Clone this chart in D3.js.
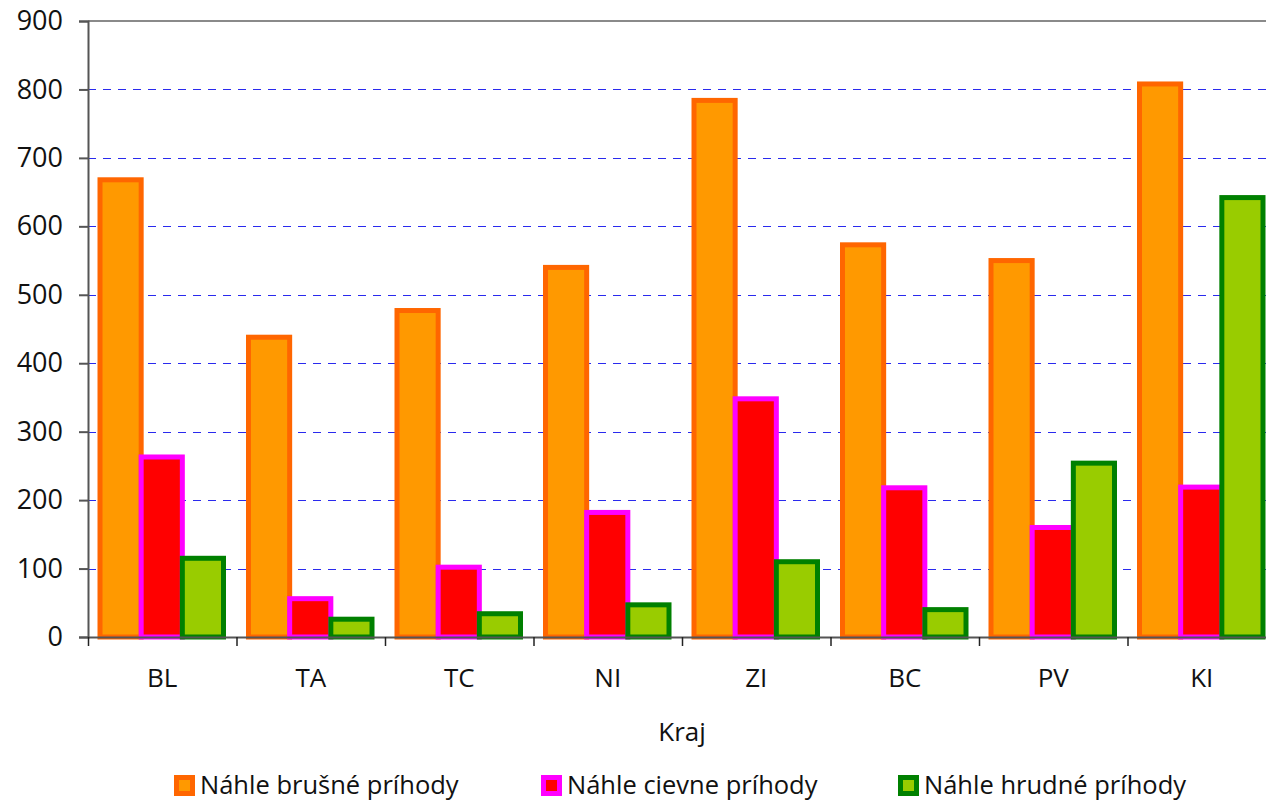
<!DOCTYPE html>
<html>
<head>
<meta charset="utf-8">
<script src="https://cdn.jsdelivr.net/npm/d3@7"></script>
<style>
  body { margin: 0; background: #fff; overflow: hidden; }
  text { font-family: "Open Sans", sans-serif; fill: #111; }
</style>
</head>
<body>
<svg id="chart"></svg>
<script>
const categories = ["BL", "TA", "TC", "NI", "ZI", "BC", "PV", "KI"];
const seriesNames = ["Náhle brušné príhody", "Náhle cievne príhody", "Náhle hrudné príhody"];
const brusne = [668, 438, 477, 540, 784, 573, 550, 808];
const cievne = [263, 56, 102, 182, 348, 218, 160, 219];
const hrudne = [115, 26, 34, 47, 110, 40, 254, 642];
const yTicks = [0, 100, 200, 300, 400, 500, 600, 700, 800, 900];

const fills = ["#ff9900", "#ff0000", "#99cc00"];
const strokes = ["#ff6600", "#ff00ff", "#008000"];

// plot area runs a little past the right edge of the window
const dimensions = {
    width: 1266,
    height: 803,
    margin: { top: 21, right: -10, bottom: 166, left: 88 }
};
const innerW = dimensions.width - dimensions.margin.left - dimensions.margin.right;
const innerH = dimensions.height - dimensions.margin.top - dimensions.margin.bottom;

const table = categories.map((c, i) => ({ cat: c, values: [brusne[i], cievne[i], hrudne[i]] }));

const svg = d3.select("#chart")
    .attr("width", dimensions.width)
    .attr("height", dimensions.height);

const g = svg.append("g")
    .attr("transform", `translate(${dimensions.margin.left}, ${dimensions.margin.top})`);

const xScale = d3.scaleBand()
    .domain(categories)
    .range([0, innerW]);

const inner = d3.scaleBand()
    .domain([0, 1, 2])
    .range([12, xScale.bandwidth() - 13]);

const yScale = d3.scaleLinear()
    .domain([0, 900])
    .range([innerH, 0]);

// grid lines
g.selectAll(".grid")
    .data(yTicks.filter(t => t > 0 && t < 900))
    .enter()
    .append("line")
    .attr("x1", 0)
    .attr("x2", innerW)
    .attr("y1", d => Math.round(yScale(d)) + 0.5)
    .attr("y2", d => Math.round(yScale(d)) + 0.5)
    .attr("stroke", "#2a2aee")
    .attr("stroke-width", 1)
    .attr("stroke-dasharray", "8,7");

// top border
g.append("line")
    .attr("x1", 0).attr("x2", innerW)
    .attr("y1", yScale(900)).attr("y2", yScale(900))
    .attr("stroke", "#8a8a8a")
    .attr("stroke-width", 2);

// bars
const groups = g.selectAll(".group")
    .data(table)
    .enter()
    .append("g")
    .attr("transform", d => `translate(${xScale(d.cat)}, 0)`);

[0, 1, 2].forEach(s => {
    groups.append("rect")
        .attr("x", inner(s))
        .attr("width", inner.bandwidth())
        .attr("y", d => yScale(d.values[s]))
        .attr("height", d => innerH - yScale(d.values[s]))
        .attr("fill", fills[s])
        .attr("stroke", strokes[s])
        .attr("stroke-width", 5);
});

// y axis
const yAxis = g.append("g")
    .call(d3.axisLeft(yScale).tickValues(yTicks).tickSize(9).tickPadding(16).tickFormat(d3.format("d")));
yAxis.select(".domain").attr("stroke", "#555").attr("stroke-width", 2);
yAxis.selectAll(".tick line").attr("stroke", "#555").attr("stroke-width", 2);
yAxis.selectAll(".tick text")
    .style("font-size", "27px")
    .attr("fill", "#111");

// x axis
const xAxis = g.append("g")
    .attr("transform", `translate(0, ${innerH})`)
    .call(d3.axisBottom(xScale).tickSize(0).tickPadding(32));
xAxis.select(".domain").attr("stroke", "#555").attr("stroke-width", 2);
xAxis.selectAll(".tick text").style("font-size", "26px").attr("fill", "#111");

g.selectAll(".xtick")
    .data(categories.concat(["end"]))
    .enter()
    .append("line")
    .attr("x1", (d, i) => i * xScale.step() + 0.5)
    .attr("x2", (d, i) => i * xScale.step() + 0.5)
    .attr("y1", innerH)
    .attr("y2", innerH + 9)
    .attr("stroke", "#222")
    .attr("stroke-width", 1.5);

g.append("text")
    .attr("x", (dimensions.width - dimensions.margin.left) / 2 + 5)
    .attr("y", innerH + 104)
    .style("text-anchor", "middle")
    .style("font-size", "26px")
    .text("Kraj");

// legend
const legendX = [174, 541, 898];
const legend = svg.selectAll(".legend")
    .data(seriesNames)
    .enter()
    .append("g")
    .attr("transform", (d, i) => `translate(${legendX[i]}, 775)`);

legend.append("rect")
    .attr("x", 2.5).attr("y", 2.5)
    .attr("width", 16).attr("height", 16)
    .attr("fill", (d, i) => fills[i])
    .attr("stroke", (d, i) => strokes[i])
    .attr("stroke-width", 5);

legend.append("text")
    .attr("x", 26)
    .attr("y", 19)
    .style("font-size", "25.5px")
    .text(d => d);
</script>
</body>
</html>
